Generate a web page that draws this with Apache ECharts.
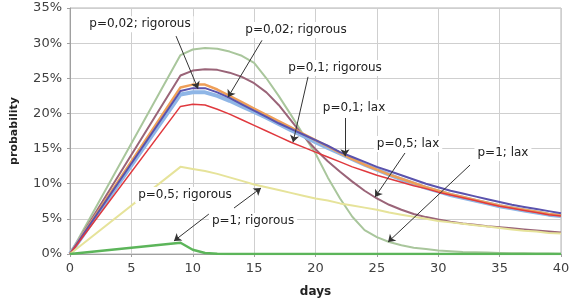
<!DOCTYPE html>
<html>
<head>
<meta charset="utf-8">
<script src="https://cdn.jsdelivr.net/npm/echarts@6/dist/echarts.min.js"></script>
<style>
  html, body { margin: 0; padding: 0; background: #fff; }
  #chart { width: 570px; height: 302px; }
</style>
</head>
<body>
<div id="chart"></div>
<script>
// days on the x axis (linear rise from day 0 to the knee at day 9)
const days = [0, 9, 10, 11, 12, 13, 14, 15, 16, 17, 18, 19, 20, 21, 22, 23, 24, 25,
  26, 27, 28, 29, 30, 31, 32, 33, 34, 35, 36, 37, 38, 39, 40];

// probability in %, one array per curve
const sageLax1 = [0, 28.3, 29.1, 29.3, 29.2, 28.8, 28.2, 27.2, 25.0, 22.5, 19.8, 17.0, 14.3, 10.9,
  7.9, 5.3, 3.4, 2.4, 1.7, 1.25, 0.9, 0.7, 0.5, 0.4, 0.3, 0.25, 0.2, 0.15, 0.12, 0.1, 0.08, 0.06, 0.05];
const mauveLax05 = [0, 25.4, 26.1, 26.3, 26.2, 25.8, 25.2, 24.3, 23.0, 21.2, 19.0, 16.8, 14.9, 13.2,
  11.7, 10.3, 9.0, 7.9, 7.0, 6.3, 5.7, 5.25, 4.9, 4.6, 4.35, 4.15, 3.95, 3.8, 3.65, 3.5, 3.35, 3.2, 3.05];
const lightBlue002 = [0, 22.7, 23.0, 23.0, 22.5, 21.8, 21.0, 20.2, 19.4, 18.5, 17.6, 16.8, 15.9, 15.1,
  14.3, 13.5, 12.7, 12.0, 11.3, 10.6, 10.0, 9.4, 8.9, 8.4, 8.0, 7.6, 7.2, 6.8, 6.5, 6.2, 5.9, 5.6, 5.4];
const orange002 = [0, 23.7, 24.1, 24.1, 23.4, 22.5, 21.6, 20.7, 19.8, 18.9, 18.0, 17.1, 16.2, 15.3,
  14.4, 13.5, 12.7, 12.0, 11.3, 10.7, 10.1, 9.5, 9.0, 8.5, 8.1, 7.7, 7.3, 6.9, 6.6, 6.3, 6.0, 5.7, 5.5];
const blueLax01 = [0, 23.2, 23.6, 23.6, 23.0, 22.2, 21.3, 20.4, 19.5, 18.6, 17.8, 17.0, 16.2, 15.4,
  14.5, 13.8, 13.1, 12.4, 11.8, 11.2, 10.6, 10.0, 9.5, 9.0, 8.6, 8.2, 7.8, 7.4, 7.0, 6.7, 6.4, 6.1, 5.8];
const redRig01 = [0, 21.0, 21.3, 21.2, 20.6, 19.9, 19.1, 18.3, 17.5, 16.7, 15.9, 15.2, 14.5, 13.8,
  13.1, 12.4, 11.8, 11.2, 10.7, 10.2, 9.7, 9.3, 8.8, 8.4, 8.0, 7.6, 7.2, 6.8, 6.5, 6.2, 5.9, 5.6, 5.4];
const yellowRig05 = [0, 12.4, 12.1, 11.8, 11.4, 10.9, 10.4, 9.9, 9.5, 9.1, 8.7, 8.3, 7.9, 7.6,
  7.2, 6.9, 6.6, 6.3, 5.9, 5.6, 5.3, 5.0, 4.7, 4.5, 4.3, 4.1, 3.9, 3.7, 3.5, 3.3, 3.2, 3.0, 2.9];
const greenRig1 = [0, 1.6, 0.6, 0.15, 0.03, 0, 0, 0, 0, 0, 0, 0, 0, 0,
  0, 0, 0, 0, 0, 0, 0, 0, 0, 0, 0, 0, 0, 0, 0, 0, 0, 0, 0];

// callouts: text centre, arrow start, arrow tip (days, %)
const notes = [
  { text: "p=0,02; rigorous", at: [5.7, 32.7], from: [8.64, 31.0], to: [10.43, 23.5] },
  { text: "p=0,02; rigorous", at: [18.41, 31.87], from: [15.64, 30.4], to: [12.87, 22.3] },
  { text: "p=0,1; rigorous", at: [21.59, 26.46], from: [19.39, 25.2], to: [18.17, 15.9] },
  { text: "p=0,1; lax", at: [23.14, 20.8], from: [22.4, 19.35], to: [22.4, 13.9] },
  { text: "p=0,5; lax", at: [27.54, 15.65], from: [27.29, 14.37], to: [24.85, 8.1] },
  { text: "p=1; lax", at: [35.27, 14.37], from: [32.59, 12.66], to: [25.91, 1.7] },
  { text: "p=0,5; rigorous", at: [9.37, 8.39], from: [13.36, 6.54], to: [15.56, 9.39] },
  { text: "p=1; rigorous", at: [14.91, 4.69], from: [11.32, 5.69], to: [8.47, 1.85] }
];

const font = "DejaVu Sans";

function curve(name, values, color, width) {
  return {
    name: name,
    type: "line",
    data: days.map((d, i) => [d, values[i]]),
    showSymbol: false,
    lineStyle: { color: color, width: width, join: "round" },
    itemStyle: { color: color },
    emphasis: { disabled: true },
    silent: true
  };
}

const chart = echarts.init(document.getElementById("chart"), null, { renderer: "canvas" });

chart.setOption({
  animation: false,
  grid: {
    left: 70, right: 9, top: 8, bottom: 48,
    outerBoundsMode: "none",
    show: true, borderColor: "#b4b4b4", borderWidth: 1
  },
  xAxis: {
    type: "value",
    min: 0, max: 40, interval: 5,
    name: "days",
    nameLocation: "middle",
    nameGap: 32,
    nameTextStyle: { fontFamily: font, fontSize: 12, fontWeight: "bold", color: "#222" },
    axisLine: { show: true, lineStyle: { color: "#a0a0a0" } },
    axisTick: { show: true, length: 3, lineStyle: { color: "#a0a0a0" } },
    axisLabel: { fontFamily: font, fontSize: 13, color: "#404040", margin: 8 },
    splitLine: { show: true, lineStyle: { color: "#cfcfcf" } }
  },
  yAxis: {
    type: "value",
    min: 0, max: 35, interval: 5,
    name: "probability",
    nameLocation: "middle",
    nameGap: 50,
    nameTextStyle: { fontFamily: font, fontSize: 11, fontWeight: "bold", color: "#222" },
    axisLine: { show: true, lineStyle: { color: "#a0a0a0" } },
    axisTick: { show: true, length: 3, lineStyle: { color: "#a0a0a0" } },
    axisLabel: { fontFamily: font, fontSize: 13, color: "#404040", margin: 8, formatter: "{value}%" },
    splitLine: { show: true, lineStyle: { color: "#cfcfcf" } }
  },
  series: [
    curve("p=1; lax", sageLax1, "#a9c69c", 2),
    curve("p=0,5; lax", mauveLax05, "#9a6478", 2),
    curve("p=0,02 (light blue)", lightBlue002, "#8fb6e6", 4),
    curve("p=0,02 (orange)", orange002, "#ee9f58", 2.5),
    curve("p=0,1; lax", blueLax01, "#5a52ad", 2),
    curve("p=0,1; rigorous", redRig01, "#e0393e", 1.5),
    curve("p=0,5; rigorous", yellowRig05, "#e6e39a", 2),
    curve("p=1; rigorous", greenRig1, "#5cb55a", 2.5),
    {
      name: "callouts",
      type: "line",
      data: [],
      z: 10,
      silent: true,
      markLine: {
        silent: true,
        symbol: ["none", "arrow"],
        symbolSize: 7,
        label: { show: false },
        lineStyle: { color: "#333", width: 1, type: "solid" },
        emphasis: { disabled: true },
        data: notes.map(n => [{ coord: n.from }, { coord: n.to }])
      },
      markPoint: {
        silent: true,
        symbolSize: 0,
        data: notes.map(n => ({
          coord: n.at,
          label: {
            show: true,
            position: "inside",
            formatter: n.text,
            fontFamily: font,
            fontSize: 12,
            color: "#222",
            backgroundColor: "#fff",
            padding: [2, 3]
          }
        }))
      }
    }
  ]
});
</script>
</body>
</html>
